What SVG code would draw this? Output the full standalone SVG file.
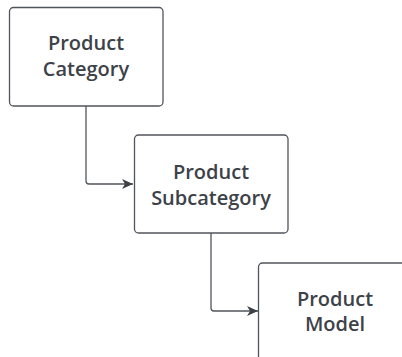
<svg xmlns="http://www.w3.org/2000/svg" width="402" height="357" viewBox="0 0 402 357">
<defs>
<style>
.box{fill:#ffffff;stroke:#50555c;stroke-width:1.3}
.lbl{font-family:"Open Sans","Noto Sans",sans-serif;font-weight:600;font-size:20px;fill:#3d4249;text-anchor:middle}
.edge{fill:none;stroke:#50555c;stroke-width:1.3}
</style>
<marker id="arr" markerWidth="12" markerHeight="10" refX="11" refY="5" orient="auto" markerUnits="userSpaceOnUse">
<path d="M0,0 L11,5 L0,10 L3,5 Z" fill="#3d4249"/>
</marker>
</defs>
<rect width="402" height="357" fill="#ffffff"/>
<g id="connectors">
<path class="edge" d="M86,106 V181 Q86,184 89,184 H133" marker-end="url(#arr)"/>
<path class="edge" d="M211,233 V308 Q211,311 214,311 H258" marker-end="url(#arr)"/>
</g>
<g id="node-category">
<rect class="box" x="9.5" y="7.5" width="153.5" height="98.5" rx="4"/>
<text class="lbl" x="86" y="49.5">Product</text>
<text class="lbl" x="86" y="75.5">Category</text>
</g>
<g id="node-subcategory">
<rect class="box" x="134.5" y="135" width="153.5" height="98" rx="4"/>
<text class="lbl" x="211" y="178.5">Product</text>
<text class="lbl" x="211" y="204.5">Subcategory</text>
</g>
<g id="node-model">
<rect class="box" x="258.5" y="263" width="153.5" height="98" rx="4"/>
<text class="lbl" x="335" y="306">Product</text>
<text class="lbl" x="335" y="331">Model</text>
</g>
</svg>
